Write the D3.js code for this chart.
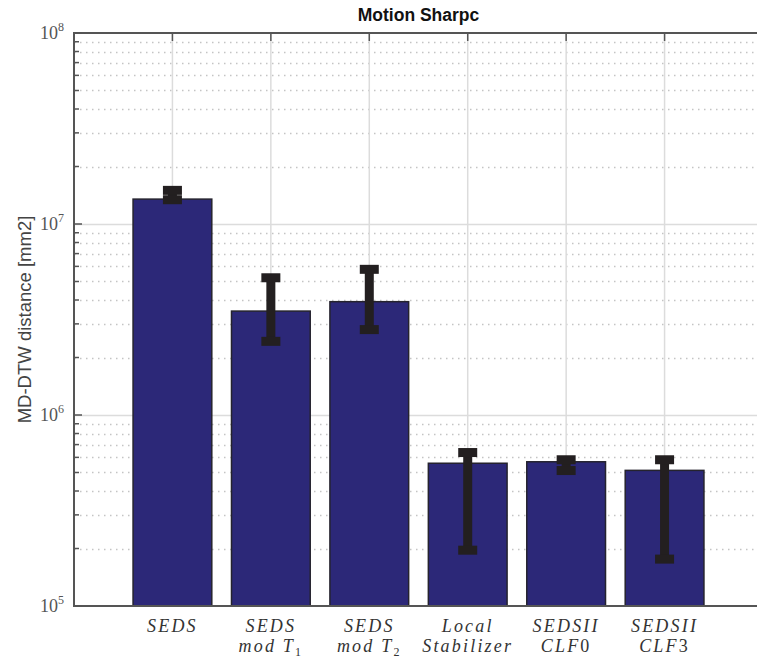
<!DOCTYPE html>
<html>
<head>
<meta charset="utf-8">
<script src="https://cdn.jsdelivr.net/npm/d3@7"></script>
<style>
body { margin: 0; background: #fff; }
svg { display: block; }
</style>
</head>
<body>
<div id="chart"></div>
<script>
// donnees
var categories = ["SEDS|", "SEDS|mod T_1", "SEDS|mod T_2", "Local|Stabilizer", "SEDSII|CLF0", "SEDSII|CLF3"];
var moyennes = [1.35e7, 3.50e6, 3.92e6, 5.59e5, 5.69e5, 5.13e5];
var erreurHaut = [1.50e7, 5.23e6, 5.79e6, 6.36e5, 5.83e5, 5.83e5];
var erreurBas = [1.34e7, 2.43e6, 2.80e6, 1.96e5, 5.12e5, 1.76e5];
var yTicks = [1e5, 1e6, 1e7, 1e8];

var W = 757, H = 659;
var pLeft = 74, pTop = 33, pRight = 763, pBottom = 606;

var svg = d3.select("#chart").append("svg")
	.attr("width", W)
	.attr("height", H);

var x = d3.scaleLinear().domain([0, 7]).range([pLeft, pRight]);
var y = d3.scaleLog().domain([1e5, 1e8]).range([pBottom, pTop]);

// grille mineure (pointillés)
var mineurs = [];
yTicks.slice(0, 3).forEach(function(d){
	for (var k = 2; k <= 9; k++) mineurs.push(d * k);
});
svg.append("g").selectAll("line").data(mineurs).enter().append("line")
	.attr("x1", pLeft).attr("x2", pRight)
	.attr("y1", function(d){ return Math.round(y(d)) + 0.5; })
	.attr("y2", function(d){ return Math.round(y(d)) + 0.5; })
	.attr("stroke", "#c4c4c4")
	.attr("stroke-width", 1.3)
	.attr("stroke-dasharray", "1.5,4.5");

// grille majeure
svg.append("g").selectAll("line").data(yTicks.slice(1, 3)).enter().append("line")
	.attr("x1", pLeft).attr("x2", pRight)
	.attr("y1", function(d){ return Math.round(y(d)) + 0.5; })
	.attr("y2", function(d){ return Math.round(y(d)) + 0.5; })
	.attr("stroke", "#dcdcdc")
	.attr("stroke-width", 1.5);

svg.append("g").selectAll("line").data(d3.range(1, 7)).enter().append("line")
	.attr("x1", function(d){ return x(d); })
	.attr("x2", function(d){ return x(d); })
	.attr("y1", pTop).attr("y2", pBottom)
	.attr("stroke", "#dcdcdc")
	.attr("stroke-width", 1.5);

// barres
svg.append("g").selectAll("rect").data(moyennes).enter().append("rect")
	.attr("x", function(d, i){ return x(i + 1 - 0.4); })
	.attr("width", x(0.8) - x(0))
	.attr("y", function(d){ return y(d); })
	.attr("height", function(d){ return pBottom - y(d); })
	.attr("fill", "#2c2878")
	.attr("stroke", "#25232e")
	.attr("stroke-width", 1.5);

// barres d'erreur
var eb = svg.append("g").attr("fill", "#231f20");
moyennes.forEach(function(d, i){
	var cx = x(i + 1), yh = y(erreurHaut[i]), yb = y(erreurBas[i]);
	eb.append("rect")
		.attr("x", cx - 4.5).attr("width", 9)
		.attr("y", yh).attr("height", yb - yh);
	[yh, yb].forEach(function(yy){
		eb.append("rect")
			.attr("x", cx - 9.5).attr("width", 19)
			.attr("y", yy - 4.5).attr("height", 9);
	});
});

// axes
var axe = svg.append("g").attr("stroke", "#555").attr("stroke-width", 2).attr("fill", "none");
axe.append("line").attr("x1", pLeft).attr("x2", pLeft).attr("y1", pTop - 1).attr("y2", pBottom + 1);
axe.append("line").attr("x1", pLeft).attr("x2", pRight).attr("y1", pTop).attr("y2", pTop);
axe.append("line").attr("x1", pLeft).attr("x2", pRight).attr("y1", pBottom).attr("y2", pBottom);

// graduations gauche
svg.append("g").selectAll("line").data(mineurs).enter().append("line")
	.attr("x1", pLeft).attr("x2", pLeft + 5)
	.attr("y1", function(d){ return y(d); })
	.attr("y2", function(d){ return y(d); })
	.attr("stroke", "#555").attr("stroke-width", 1.5);
svg.append("g").selectAll("line").data(yTicks).enter().append("line")
	.attr("x1", pLeft).attr("x2", pLeft + 8)
	.attr("y1", function(d){ return y(d); })
	.attr("y2", function(d){ return y(d); })
	.attr("stroke", "#555").attr("stroke-width", 1.5);
// graduations haut
svg.append("g").selectAll("line").data(d3.range(1, 7)).enter().append("line")
	.attr("x1", function(d){ return x(d); })
	.attr("x2", function(d){ return x(d); })
	.attr("y1", pTop).attr("y2", pTop + 8)
	.attr("stroke", "#555").attr("stroke-width", 1.5);

// etiquettes y
var ty = svg.append("g").selectAll("text").data(yTicks).enter().append("text")
	.attr("x", 64)
	.attr("y", function(d){ return y(d) + 6; })
	.attr("text-anchor", "end")
	.attr("font-family", "Liberation Serif, serif")
	.attr("font-size", 18)
	.attr("fill", "#555");
ty.append("tspan").text("10");
ty.append("tspan").attr("dy", -8).attr("font-size", 12).text(function(d){ return Math.round(Math.log10(d)); });

// etiquettes x
categories.forEach(function(c, i){
	var lignes = c.split("|");
	lignes.forEach(function(l, j){
		if (!l) return;
		var t = svg.append("text")
			.attr("x", x(i + 1))
			.attr("y", 632 + j * 20)
			.attr("text-anchor", "middle")
			.attr("font-family", "Liberation Serif, serif")
			.attr("font-style", "italic")
			.attr("font-size", 18)
			.attr("letter-spacing", 2.2)
			.attr("fill", "#333");
		var parts = l.split("_");
		// chiffres droits comme en mode math
		var m = parts[0].match(/^(.*?)(\d*)$/);
		t.append("tspan").text(m[1]);
		if (m[2]) t.append("tspan").attr("font-style", "normal").text(m[2]);
		if (parts[1]) {
			t.append("tspan").attr("dy", 4).attr("font-size", 12).attr("font-style", "normal").text(parts[1]);
		}
	});
});

// titre
svg.append("text")
	.attr("x", (pLeft + pRight) / 2)
	.attr("y", 21)
	.attr("text-anchor", "middle")
	.attr("font-family", "Liberation Sans, Arial, sans-serif")
	.attr("font-weight", "bold")
	.attr("font-size", 17.5)
	.attr("fill", "#111")
	.text("Motion Sharpc");

// titre axe y
svg.append("text")
	.attr("transform", "translate(31," + ((pTop + pBottom) / 2) + ") rotate(-90)")
	.attr("text-anchor", "middle")
	.attr("font-family", "Liberation Sans, Arial, sans-serif")
	.attr("font-size", 18.5)
	.attr("fill", "#444")
	.text("MD-DTW distance [mm2]");
</script>
</body>
</html>
